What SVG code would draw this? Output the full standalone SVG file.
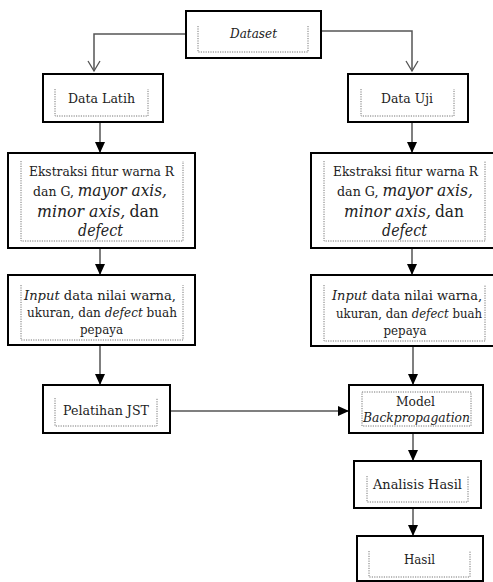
<svg xmlns="http://www.w3.org/2000/svg" width="493" height="582" viewBox="0 0 493 582">
<style>
.box{fill:#fff;stroke:#000;stroke-width:2}
.dot{fill:none;stroke:#777;stroke-width:1;stroke-dasharray:1.2 1.2}
.con{fill:none;stroke:#555;stroke-width:1.5}
.open{fill:none;stroke:#555;stroke-width:1.3}
text{font-family:'DejaVu Serif','Liberation Serif',serif;font-size:13px;fill:#222;text-anchor:middle}
.it{font-style:italic}
.big{font-size:16px;font-style:italic}
.bigr{font-size:16px}
.sm{font-size:12.3px}
</style>
<defs>
<marker id="ah" markerUnits="userSpaceOnUse" markerWidth="11" markerHeight="10" refX="11" refY="5" orient="auto">
<path d="M0,0 L11,5 L0,10 z" fill="#000"/>
</marker>
</defs>
<rect width="493" height="582" fill="#fff"/>
<g id="connectors">
<path class="con" d="M186,34 H94 V71"/>
<path class="open" d="M88,61 L94,71 L100,61"/>
<path class="con" d="M321,31 H412 V71"/>
<path class="open" d="M406,61 L412,71 L418,61"/>
<path class="con" d="M100,122 V153" marker-end="url(#ah)"/>
<path class="con" d="M100,248 V275" marker-end="url(#ah)"/>
<path class="con" d="M100,345 V385" marker-end="url(#ah)"/>
<path class="con" d="M412,122 V153" marker-end="url(#ah)"/>
<path class="con" d="M412,248 V275" marker-end="url(#ah)"/>
<path class="con" d="M413,346 V385" marker-end="url(#ah)"/>
<path class="con" d="M170,411 H349" marker-end="url(#ah)"/>
<path class="con" d="M413,433 V461" marker-end="url(#ah)"/>
<path class="con" d="M413,508 V536" marker-end="url(#ah)"/>
</g>
<g id="dataset">
<rect class="box" x="186" y="11" width="135" height="47"/>
<path class="dot" d="M198,26 V52 H308 V26"/>
<text x="253.5" y="38" class="it" textLength="47" lengthAdjust="spacingAndGlyphs">Dataset</text>
</g>
<g id="data-latih">
<rect class="box" x="43" y="74" width="120" height="48"/>
<path class="dot" d="M55,89 V116 H148 V89"/>
<text x="101.5" y="103" textLength="67" lengthAdjust="spacingAndGlyphs">Data Latih</text>
</g>
<g id="data-uji">
<rect class="box" x="348" y="74" width="120" height="48"/>
<path class="dot" d="M361,89 V116 H454 V89"/>
<text x="407" y="103" textLength="52" lengthAdjust="spacingAndGlyphs">Data Uji</text>
</g>
<g id="ekstraksi-latih">
<rect class="box" x="8" y="153" width="187" height="95"/>
<path class="dot" d="M21,161 V241 H183 V161"/>
<text x="101.5" y="176" textLength="145" lengthAdjust="spacingAndGlyphs">Ekstraksi fitur warna R</text>
<text x="100" y="196" textLength="134" lengthAdjust="spacingAndGlyphs">dan G, <tspan class="big">mayor axis,</tspan></text>
<text x="98" y="217" textLength="122" lengthAdjust="spacingAndGlyphs"><tspan class="big">minor axis,</tspan> <tspan class="bigr">dan</tspan></text>
<text x="100.5" y="236" class="big" textLength="45" lengthAdjust="spacingAndGlyphs">defect</text>
</g>
<g id="ekstraksi-uji">
<rect class="box" x="311" y="153" width="188" height="95"/>
<path class="dot" d="M324,161 V241 H485 V161"/>
<text x="405.5" y="176" textLength="145" lengthAdjust="spacingAndGlyphs">Ekstraksi fitur warna R</text>
<text x="405" y="196" textLength="136" lengthAdjust="spacingAndGlyphs">dan G, <tspan class="big">mayor axis,</tspan></text>
<text x="404" y="217" textLength="120" lengthAdjust="spacingAndGlyphs"><tspan class="big">minor axis,</tspan> <tspan class="bigr">dan</tspan></text>
<text x="404.5" y="236" class="big" textLength="45" lengthAdjust="spacingAndGlyphs">defect</text>
</g>
<g id="input-latih">
<rect class="box" x="8" y="275" width="187" height="70"/>
<path class="dot" d="M21,285 V340 H183 V285"/>
<text x="100" y="299.5" class="sm" textLength="152" lengthAdjust="spacingAndGlyphs"><tspan class="it">Input</tspan> data nilai warna,</text>
<text x="102" y="317" class="sm" textLength="150" lengthAdjust="spacingAndGlyphs">ukuran, dan <tspan class="it">defect</tspan> buah</text>
<text x="101.5" y="334" class="sm" textLength="43" lengthAdjust="spacingAndGlyphs">pepaya</text>
</g>
<g id="input-uji">
<rect class="box" x="311" y="275" width="188" height="71"/>
<path class="dot" d="M324,285 V341 H485 V285"/>
<text x="407" y="299.5" class="sm" textLength="150" lengthAdjust="spacingAndGlyphs"><tspan class="it">Input</tspan> data nilai warna,</text>
<text x="409" y="317.5" class="sm" textLength="146" lengthAdjust="spacingAndGlyphs">ukuran, dan <tspan class="it">defect</tspan> buah</text>
<text x="405" y="334.5" class="sm" textLength="43" lengthAdjust="spacingAndGlyphs">pepaya</text>
</g>
<g id="pelatihan-jst">
<rect class="box" x="43" y="385" width="127" height="48"/>
<path class="dot" d="M55,398 V426 H157 V398"/>
<text x="106" y="415" textLength="86" lengthAdjust="spacingAndGlyphs">Pelatihan JST</text>
</g>
<g id="model-backpropagation">
<rect class="box" x="349" y="385" width="134" height="48"/>
<rect class="dot" x="362" y="392" width="109" height="34"/>
<text x="415.5" y="406" textLength="39" lengthAdjust="spacingAndGlyphs">Model</text>
<text x="416.5" y="422" class="it" textLength="107" lengthAdjust="spacingAndGlyphs">Backpropagation</text>
</g>
<g id="analisis-hasil">
<rect class="box" x="354" y="461" width="127" height="47"/>
<path class="dot" d="M367,476 V502 H468 V476"/>
<text x="417.5" y="489" textLength="89" lengthAdjust="spacingAndGlyphs">Analisis Hasil</text>
</g>
<g id="hasil">
<rect class="box" x="357" y="536" width="126" height="45"/>
<path class="dot" d="M369,551 V577 H470 V551"/>
<text x="419.5" y="564" textLength="31" lengthAdjust="spacingAndGlyphs">Hasil</text>
</g>
</svg>
